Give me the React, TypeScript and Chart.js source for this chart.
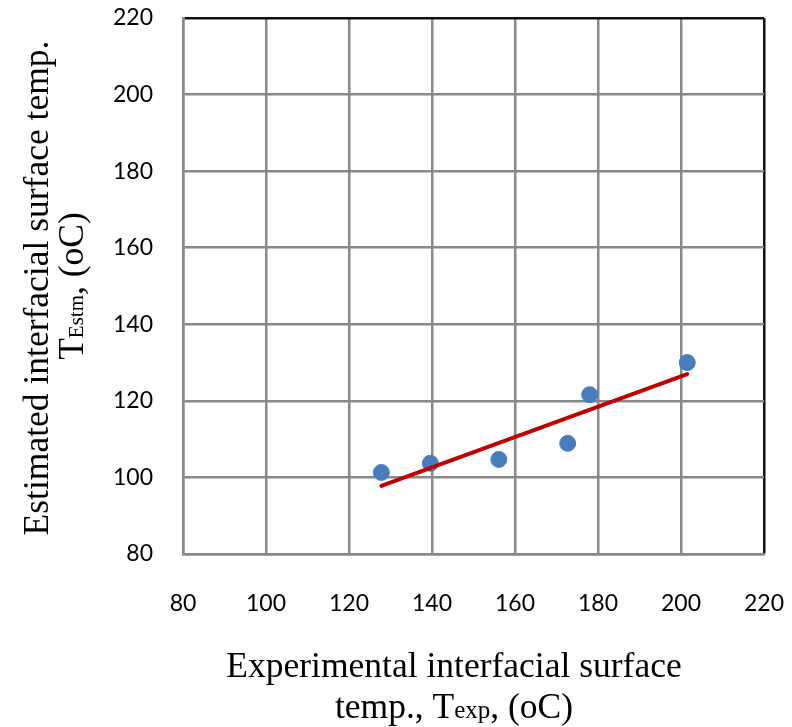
import React, { useEffect, useRef } from "react";
import { Chart, registerables } from "chart.js";

Chart.register(...registerables);

const expTemp = [127.8, 139.6, 156.1, 172.7, 178.0, 201.5];
const estTemp = [101.3, 103.7, 104.7, 108.9, 121.6, 130.0];
const trendX = [127.8, 201.5];
const trendY = [97.8, 127.0];
const axisMin = 80;
const axisMax = 220;
const axisStep = 20;

type Seg = { t: string; size?: number };
const xTitleLines: Seg[][] = [
  [{ t: "Experimental interfacial surface" }],
  [{ t: "temp., T" }, { t: "exp", size: 25 }, { t: ", (oC)" }],
];
const yTitleLines: Seg[][] = [
  [{ t: "Estimated interfacial surface temp." }],
  [{ t: "T" }, { t: "Estm", size: 21 }, { t: ", (oC)" }],
];

const TITLE_SIZE = 35.5;
const serif = '"Liberation Serif", "Times New Roman", serif';

function drawLine(ctx: CanvasRenderingContext2D, segs: Seg[], cx: number, baseY: number) {
  const fonts = segs.map((s) => `${s.size ?? TITLE_SIZE}px ${serif}`);
  let total = 0;
  const widths = segs.map((s, i) => {
    ctx.font = fonts[i];
    const w = ctx.measureText(s.t).width;
    total += w;
    return w;
  });
  let x = cx - total / 2;
  segs.forEach((s, i) => {
    ctx.font = fonts[i];
    ctx.fillText(s.t, x, baseY);
    x += widths[i];
  });
}

const titlePlugin = {
  id: "axisTitles",
  afterDraw(chart: any) {
    const ctx = chart.ctx as CanvasRenderingContext2D;
    ctx.save();
    ctx.fillStyle = "#000";
    ctx.textBaseline = "alphabetic";
    ctx.textAlign = "left";
    drawLine(ctx, xTitleLines[0], 454, 677);
    drawLine(ctx, xTitleLines[1], 454, 718);
    ctx.rotate(-Math.PI / 2);
    drawLine(ctx, yTitleLines[0], -288, 48);
    drawLine(ctx, yTitleLines[1], -286, 83);
    ctx.restore();
  },
};

export default function App() {
  const ref = useRef<HTMLCanvasElement | null>(null);
  useEffect(() => {
    document.body.style.margin = "0";
    const canvas = ref.current;
    if (!canvas) return;
    const gridColor = "#898989";
    const edgeColor = (c: any) => (c.tick && c.tick.value === axisMax ? "#111" : gridColor);
    const tickFont = { family: 'Lato, "Open Sans", sans-serif', size: 23 };
    const zeroPad = (s: any) => {
      s.paddingTop = 0;
      s.paddingBottom = 0;
      s.paddingLeft = 0;
      s.paddingRight = 0;
    };
    const chart = new Chart(canvas, {
      type: "scatter",
      data: {
        datasets: [
          {
            label: "Estimated",
            data: expTemp.map((x, i) => ({ x, y: estTemp[i] })),
            backgroundColor: "#4a7ebb",
            borderColor: "#4a7ebb",
            pointRadius: 8,
            pointHoverRadius: 8,
            showLine: false,
            order: 2,
          },
          {
            label: "Trend",
            data: trendX.map((x, i) => ({ x, y: trendY[i] })),
            borderColor: "#c00000",
            backgroundColor: "#c00000",
            borderWidth: 4,
            pointRadius: 0,
            showLine: true,
            borderCapStyle: "round",
            order: 1,
          } as any,
        ],
      },
      options: {
        responsive: false,
        animation: false,
        devicePixelRatio: 1,
        layout: { padding: { top: 18, right: 28, left: 0, bottom: 0 } },
        plugins: {
          legend: { display: false },
          tooltip: { enabled: false },
          title: { display: false },
        },
        scales: {
          x: {
            type: "linear",
            min: axisMin,
            max: axisMax,
            ticks: { stepSize: axisStep, color: "#000", font: tickFont, padding: 36, maxRotation: 0 },
            grid: { color: edgeColor, lineWidth: 2.5, drawTicks: false },
            border: { color: gridColor, width: 2.5 },
            afterFit: (s: any) => {
              s.height = 173;
              zeroPad(s);
            },
          },
          y: {
            type: "linear",
            min: axisMin,
            max: axisMax,
            ticks: { stepSize: axisStep, color: "#000", font: tickFont, padding: 30 },
            grid: { color: edgeColor, lineWidth: 2.5, drawTicks: false },
            border: { color: gridColor, width: 2.5 },
            afterFit: (s: any) => {
              s.width = 183;
              zeroPad(s);
            },
          },
        },
      },
      plugins: [titlePlugin],
    });
    return () => chart.destroy();
  }, []);
  return (
    <div style={{ width: 792, height: 727, background: "#fff" }}>
      <canvas ref={ref} width={792} height={727} style={{ display: "block" }} />
    </div>
  );
}
